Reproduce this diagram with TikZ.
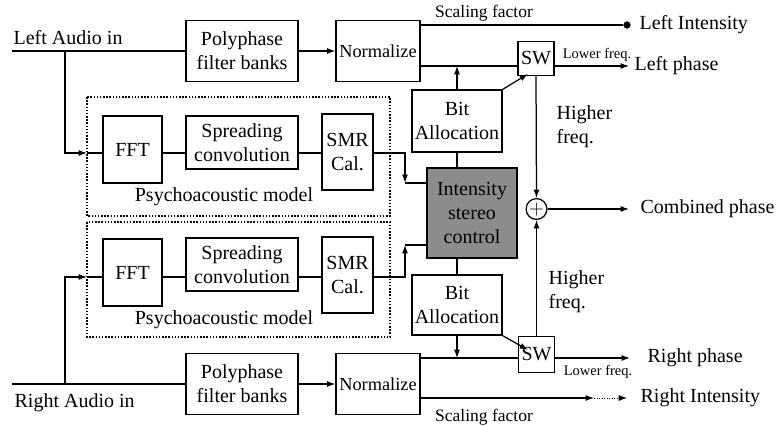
\documentclass[tikz,border=0pt]{standalone}
\usepackage{fontspec}
\setmainfont{Liberation Serif}
\usetikzlibrary{arrows.meta}
\begin{document}
\begin{tikzpicture}[x=0.6pt,y=-0.6pt,>={Latex[length=5pt,width=3.6pt]},line width=0.75pt]
    \tikzstyle{blk}=[draw,align=center,inner sep=0pt,font=\fontsize{12}{14.5}\selectfont]
    \tikzstyle{lbl}=[inner sep=0pt,align=left,font=\fontsize{12}{14.5}\selectfont]
    \tikzstyle{tiny}=[inner sep=0pt,font=\fontsize{8.7}{10}\selectfont]
    \tikzstyle{scl}=[inner sep=0pt,font=\fontsize{10.5}{12}\selectfont]
    \tikzstyle{psybox}=[densely dotted,line width=0.9pt]
    \useasboundingbox (0,0) rectangle (777,425);

    % left channel
    \node[blk,minimum width=67.2pt,minimum height=36.6pt] (polyL) at (242,51) {Polyphase\\filter banks};
    \node[blk,minimum width=50.4pt,minimum height=36.6pt,font=\fontsize{11}{13}\selectfont] (normL) at (378,51) {Normalize};
    \draw[psybox] (87,97) rectangle (390,216);
    \node[blk,minimum width=35.4pt,minimum height=40.2pt] (fftL) at (132.5,149.5) {FFT};
    \node[blk,minimum width=67.2pt,minimum height=31.8pt] (sprL) at (242,142.5) {Spreading\\convolution};
    \node[blk,minimum width=30.6pt,minimum height=45.6pt] (smrL) at (347.5,152) {SMR\\Cal.};
    \node[lbl] (psyL) at (224,197) {Psychoacoustic model};

    % right channel
    \node[blk,minimum width=67.2pt,minimum height=36.6pt] (polyR) at (242,384) {Polyphase\\filter banks};
    \node[blk,minimum width=50.4pt,minimum height=36.6pt,font=\fontsize{11}{13}\selectfont] (normR) at (378,384) {Normalize};
    \draw[psybox] (87,222) rectangle (390,337);
    \node[blk,minimum width=35.4pt,minimum height=40.2pt] (fftR) at (132.5,272.5) {FFT};
    \node[blk,minimum width=67.2pt,minimum height=31.8pt] (sprR) at (242,264.5) {Spreading\\convolution};
    \node[blk,minimum width=30.6pt,minimum height=45.6pt] (smrR) at (347.5,275) {SMR\\Cal.};
    \node[lbl] (psyR) at (224,320) {Psychoacoustic model};

    % middle part
    \node[blk,minimum width=54pt,minimum height=37.2pt] (bitL) at (457,121) {Bit\\Allocation};
    \node[blk,minimum width=54pt,minimum height=36pt] (bitR) at (457,305) {Bit\\Allocation};
    \node[blk,minimum width=54pt,minimum height=54pt,fill=black!45] (isc) at (472,213) {Intensity\\stereo\\control};
    \node[blk,minimum width=21.6pt,minimum height=20.4pt] (swL) at (536,58.5) {SW};
    \node[blk,minimum width=21.6pt,minimum height=22pt] (swR) at (536.5,354.5) {SW};
    \node[draw,circle,inner sep=0pt,minimum size=12.5pt] (sum) at (536.5,209) {};
    \node[font=\fontsize{12}{12}\selectfont,inner sep=0pt] at (sum) {$+$};

    % points
    \coordinate (inL) at (12,51);
    \coordinate (brL) at (65,51);
    \coordinate (psyinL) at (87,153);
    \coordinate (rowL) at (0,153);
    \coordinate (inR) at (12,384);
    \coordinate (brR) at (65,384);
    \coordinate (psyinR) at (87,277);
    \coordinate (rowR) at (0,277);
    \coordinate (cornL) at (405,183);
    \coordinate (cornR) at (405,245);
    \coordinate (swLin) at (528,74);
    \coordinate (swRin) at (528,350);
    \node[circle,fill,inner sep=0pt,minimum size=4.4pt] (liL) at (627,25) {};
    \coordinate (lpL) at (629,66);
    \coordinate (cph) at (629,209);
    \coordinate (rp) at (630,358);
    \coordinate (riMid) at (594,398);
    \coordinate (ri) at (627,398);

    % connectors
    \draw (inL) -- (polyL.west);
    \draw[->] (polyL) -- (normL);
    \draw[->] (brL) |- (psyinL);
    \draw (psyinL) -- (fftL.west|-psyinL);
    \draw (fftL.east|-rowL) -- (sprL.west|-rowL);
    \draw (sprL.east|-rowL) -- (smrL.west|-rowL);
    \draw[->] (smrL.east|-rowL) -| (cornL);
    \draw (cornL) -- (cornL-|isc.west);

    \draw (inR) -- (polyR.west);
    \draw[->] (polyR) -- (normR);
    \draw[->] (brR) |- (psyinR);
    \draw (psyinR) -- (fftR.west|-psyinR);
    \draw (fftR.east|-rowR) -- (sprR.west|-rowR);
    \draw (sprR.east|-rowR) -- (smrR.west|-rowR);
    \draw[->] (smrR.east|-rowR) -| (cornR);
    \draw (cornR) -- (cornR-|isc.west);

    \draw (bitL.south) -- (bitL.south|-isc.north);
    \draw (bitR.north) -- (bitR.north|-isc.south);
    \draw (normL.east|-liL) -- (liL);
    \draw (normL.east|-lpL) -- (swL.west|-lpL);
    \draw[->] (bitL.north) -- (bitL.north|-lpL);
    \draw[->] (bitL.north east) -- (swLin);
    \draw[->] (swL.east|-lpL) -- (lpL);
    \draw[->] (swL.south) -- (sum.north);

    \draw (normR.east|-rp) -- (swR.west|-rp);
    \draw[->] (bitR.south) -- (bitR.south|-rp);
    \draw[->] (bitR.south east) -- (swRin);
    \draw[->] (swR.east|-rp) -- (rp);
    \draw[->] (swR.north) -- (sum.south);
    \draw[->] (normR.east|-ri) -- (riMid);
    \draw[->,densely dotted,line width=0.5pt] (riMid) -- (ri);
    \draw[->] (sum.east) -- (cph);

    % labels
    \node[lbl,anchor=west] at (13,38) {Left Audio in};
    \node[lbl,anchor=west] at (14,403) {Right Audio in};
    \node[scl] at (484,13) {Scaling factor};
    \node[scl] at (484,417) {Scaling factor};
    \node[tiny] at (597,55) {Lower freq.};
    \node[tiny] at (598,372) {Lower freq.};
    \node[lbl,anchor=west] at (556,127) {Higher\\freq.};
    \node[lbl,anchor=west] at (548,292) {Higher\\freq.};
    \node[lbl,anchor=west] at (639,25) {Left Intensity};
    \node[lbl,anchor=west] at (634,66) {Left phase};
    \node[lbl,anchor=west] at (640,209) {Combined phase};
    \node[lbl,anchor=west] at (647,358) {Right phase};
    \node[lbl,anchor=west] at (640,398) {Right Intensity};
\end{tikzpicture}
\end{document}
